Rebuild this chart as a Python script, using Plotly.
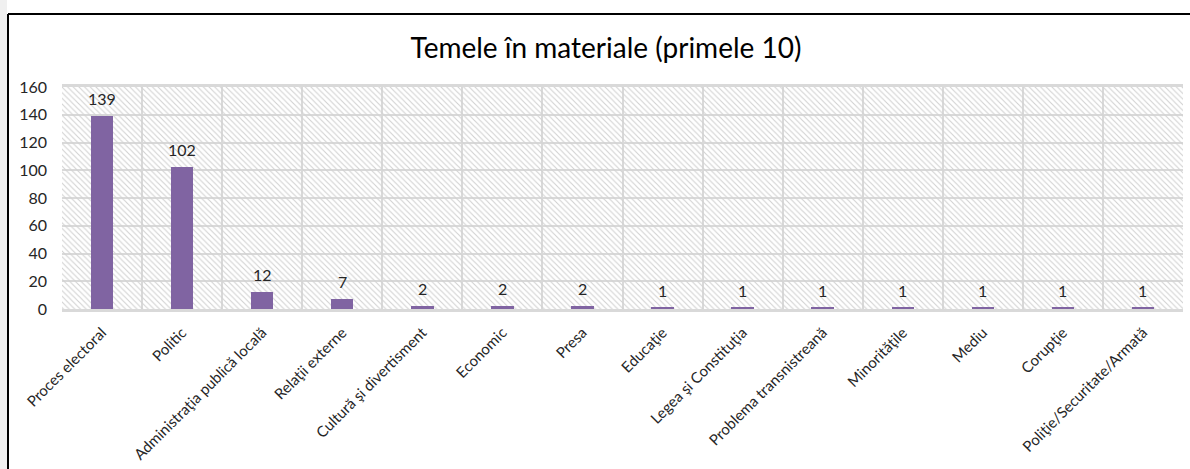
import plotly.graph_objects as go

# Topics covered in the monitored materials
categories = [
    "Proces electoral", "Politic", "Administraţia publică locală",
    "Relaţii externe", "Cultură şi divertisment", "Economic", "Presa",
    "Educaţie", "Legea şi Constituţia", "Problema transnistreană",
    "Minorităţile", "Mediu", "Corupţie", "Poliţie/Securitate/Armată",
]
counts = [139, 102, 12, 7, 2, 2, 2, 1, 1, 1, 1, 1, 1, 1]
y_ticks = [0, 20, 40, 60, 80, 100, 120, 140, 160]

W, H = 1190, 469
ML, MR, MT, MB = 62, 7, 87, 160
FONT = "Lato"
PURPLE = "#8064a2"
GRID = "#d9d9d9"
TEXT = "#262626"

fig = go.Figure()

# hatched backdrop filling each category column
fig.add_trace(go.Bar(
    x=categories, y=[y_ticks[-1]] * len(categories), width=1,
    marker=dict(color="rgba(0,0,0,0)", line=dict(width=0),
                pattern=dict(shape="\\", fgcolor="#d2d2d2", bgcolor="rgba(0,0,0,0)",
                             size=4, solidity=0.28, fillmode="replace")),
    hoverinfo="skip", showlegend=False,
))

fig.add_trace(go.Bar(
    x=categories, y=counts, width=0.28,
    marker=dict(color=PURPLE, line=dict(width=0)),
    showlegend=False,
))

# value labels above each bar
for cat, val in zip(categories, counts):
    fig.add_annotation(
        x=cat, y=val, text=str(val), showarrow=False,
        xanchor="center", yanchor="bottom", yshift=6,
        font=dict(family=FONT, size=16, color=TEXT),
    )

# outer frame: grey strip on the left, black top and left edges
pw = W - ML - MR
ph = H - MT - MB
def px(x):
    return (x - ML) / pw
def py(y):
    return 1 - (y - MT) / ph

fig.add_shape(type="rect", xref="paper", yref="paper",
              x0=px(0), x1=px(7), y0=py(H), y1=py(0),
              fillcolor="#f0f0f0", line=dict(width=0), layer="below")
fig.add_shape(type="line", xref="paper", yref="paper",
              x0=px(8), x1=px(W), y0=py(14), y1=py(14),
              line=dict(color="black", width=2))
fig.add_shape(type="line", xref="paper", yref="paper",
              x0=px(8), x1=px(8), y0=py(14), y1=py(H),
              line=dict(color="black", width=2))

fig.update_layout(
    width=W, height=H,
    margin=dict(l=ML, r=MR, t=MT, b=MB),
    paper_bgcolor="white", plot_bgcolor="white",
    barmode="overlay", bargap=0,
    title=dict(text="Temele în materiale (primele 10)",
               x=606 / W, xanchor="center", y=1 - 48 / H, yanchor="middle",
               font=dict(family=FONT, size=28, color="#000000")),
    font=dict(family=FONT),
)
fig.update_xaxes(
    type="category", tickson="boundaries", showgrid=True, gridcolor=GRID, gridwidth=2,
    showline=True, linecolor=GRID, linewidth=3, mirror=True, layer="above traces",
    tickangle=-45, tickfont=dict(family=FONT, size=15, color=TEXT),
    ticks="", ticklabelstandoff=6, range=[-0.5, len(categories) - 0.5],
)
fig.update_yaxes(
    range=[0, y_ticks[-1]], tickvals=y_ticks, showgrid=True, gridcolor=GRID, gridwidth=2,
    zeroline=False, showline=False, ticks="",
    tickfont=dict(family=FONT, size=16, color=TEXT), ticklabelstandoff=14,
)

fig.write_html("out.html")
